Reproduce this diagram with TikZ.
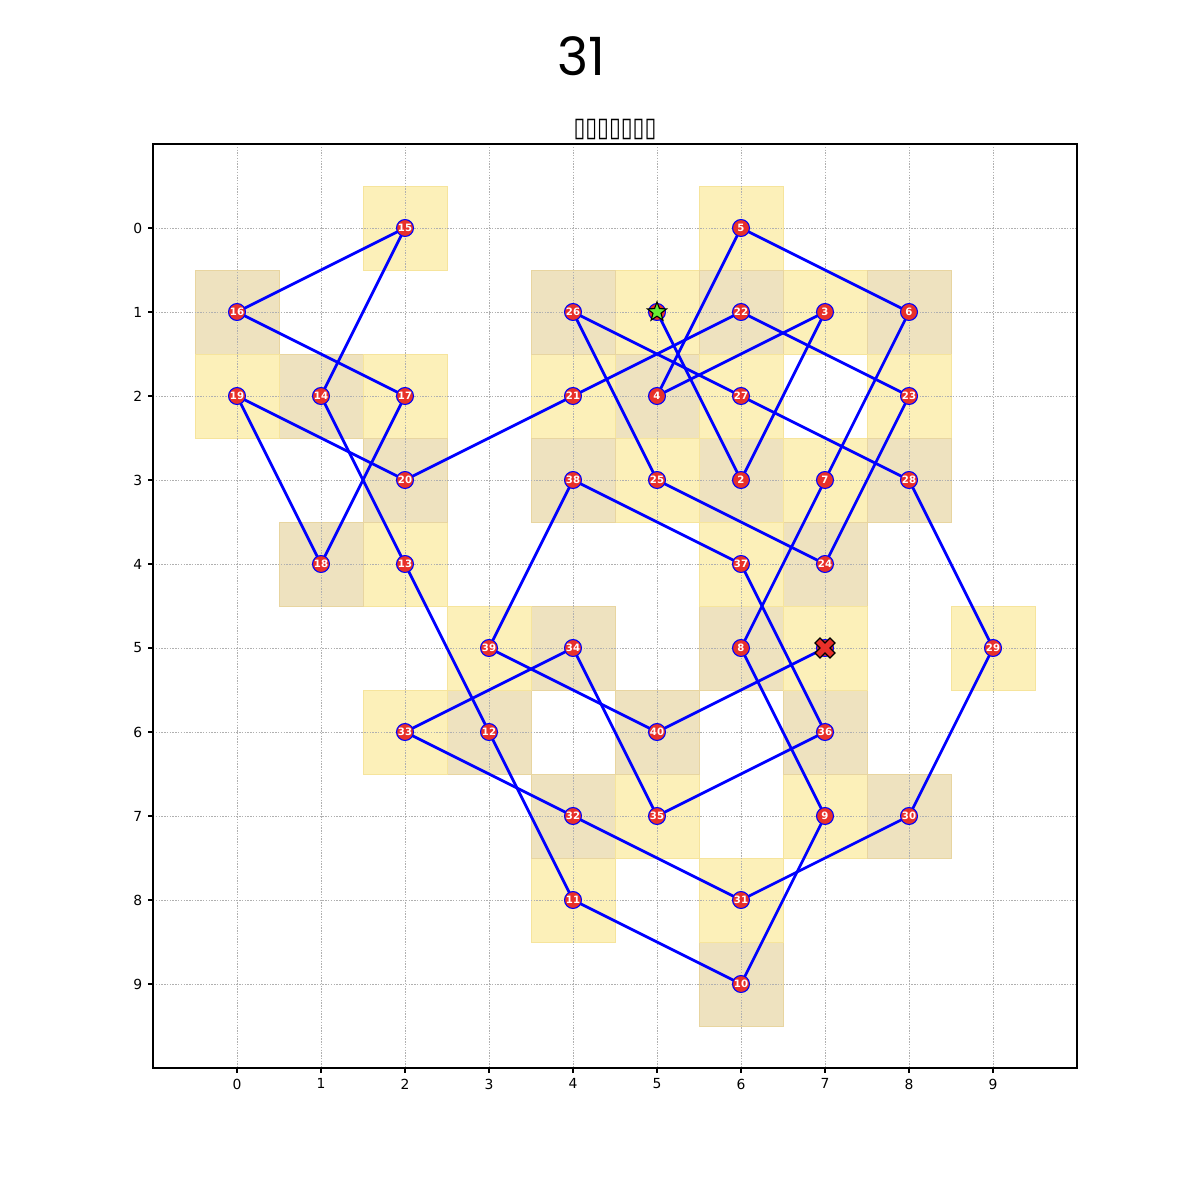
\documentclass[tikz,border=0pt]{standalone}
\usepackage{fontspec}
\setmainfont{DejaVu Sans}
\newfontfamily\titlefont{Poppins}
\usetikzlibrary{shapes.geometric}
\definecolor{lightcell}{HTML}{FCF0B9}
\definecolor{lightedge}{HTML}{F6E49C}
\definecolor{darkcell}{HTML}{EEE2BF}
\definecolor{darkedge}{HTML}{E8D5A0}
\definecolor{nodered}{HTML}{E8302A}
\definecolor{stargreen}{HTML}{66EE33}
\definecolor{gridgray}{HTML}{B0B0B0}
\tikzset{
  lightsq/.style={fill=lightcell, draw=lightedge, line width=0.7pt},
  darksq/.style={fill=darkcell, draw=darkedge, line width=0.7pt},
  gridline/.style={draw=gridgray, line width=0.5pt, dash pattern=on 1pt off 1pt},
  pathline/.style={draw=blue, line width=1.95pt},
  pt/.style={circle, fill=nodered, draw=blue, line width=0.8pt, minimum size=12.2pt, inner sep=0pt,
    text=white, font=\bfseries\fontsize{7.3}{8}\selectfont},
  ticklab/.style={font=\fontsize{10}{12}\selectfont, inner sep=0pt},
  tickmark/.style={draw=black, line width=0.8pt},
}
\def\pts{1/5/1, 2/6/3, 3/7/1, 4/5/2, 5/6/0, 6/8/1, 7/7/3, 8/6/5, 9/7/7, 10/6/9, 11/4/8, 12/3/6, 13/2/4, 14/1/2, 15/2/0, 16/0/1, 17/2/2, 18/1/4, 19/0/2, 20/2/3, 21/4/2, 22/6/1, 23/8/2, 24/7/4, 25/5/3, 26/4/1, 27/6/2, 28/8/3, 29/9/5, 30/8/7, 31/6/8, 32/4/7, 33/2/6, 34/4/5, 35/5/7, 36/7/6, 37/6/4, 38/4/3, 39/3/5, 40/5/6, 41/7/5}
\begin{document}
\begin{tikzpicture}[x=0.72pt, y=-0.72pt]
\useasboundingbox[fill=white] (0,0) rectangle (1200,1200);
\node[font=\titlefont\fontsize{38}{40}\selectfont, inner sep=0pt] (title) at (581,56) {31};
\node[font=\fontsize{15.5}{16}\selectfont, inner sep=0pt] (subtitle) at (615,130) {\scalebox{1}[1.25]{▯▯▯▯▯▯▯}};
\begin{scope}[shift={(237,228)}, x=60.48pt, y=-60.48pt]
  % cells
  \foreach \i/\gx/\gy in \pts {
    \pgfmathtruncatemacro\cellpar{mod(\gx+\gy,2)}
    \ifnum\cellpar=1
      \path[darksq] (\gx-0.5,\gy-0.5) rectangle (\gx+0.5,\gy+0.5);
    \else
      \path[lightsq] (\gx-0.5,\gy-0.5) rectangle (\gx+0.5,\gy+0.5);
    \fi
  }
  % grid
  \foreach \k in {0,...,9} {
    \path[gridline] (\k,-1) -- (\k,10);
    \path[gridline] (-1,\k) -- (10,\k);
  }
  % frame and ticks
  \draw[line width=0.8pt] (-1,-1) rectangle (10,10);
  \foreach \k in {0,...,9} {
    \path[tickmark] (\k,10) -- ++(0,0.058);
    \path[tickmark] (-1,\k) -- ++(-0.058,0);
    \node[ticklab, anchor=north] (bx\k) at ([yshift=-7.5pt]\k,10) {\k};
    \node[ticklab, anchor=east] (ly\k) at ([xshift=-7.5pt]-1,\k) {\k};
  }
  % coordinates
  \foreach \i/\gx/\gy in \pts { \coordinate (p\i) at (\gx,\gy); }
  % path
  \foreach \i [evaluate=\i as \j using int(\i+1)] in {1,...,40} {
    \path[pathline] (p\i) -- (p\j);
  }
  % nodes
  \foreach \i/\gx/\gy in \pts {
    \ifnum\i=1
      \node[pt] (n\i) at (p\i) {};
    \else\ifnum\i=41
      \node[pt] (n\i) at (p\i) {};
    \else
      \node[pt] (n\i) at (p\i) {\i};
    \fi\fi
  }
  % start star
  \node[star, star points=5, star point ratio=2.4, fill=stargreen, draw=black, line width=0.8pt,
        minimum size=14.5pt, inner sep=0pt] (start) at (p1) {};
  % end cross
  \begin{scope}[shift={(p41)}, x=14.4pt, y=14.4pt]
    \filldraw[fill=nodered, draw=black, line width=0.8pt]
      (-0.25,-0.5) -- (0,-0.25) -- (0.25,-0.5) -- (0.5,-0.25) -- (0.25,0) -- (0.5,0.25)
      -- (0.25,0.5) -- (0,0.25) -- (-0.25,0.5) -- (-0.5,0.25) -- (-0.25,0) -- (-0.5,-0.25) -- cycle;
  \end{scope}
\end{scope}
\end{tikzpicture}
\end{document}
